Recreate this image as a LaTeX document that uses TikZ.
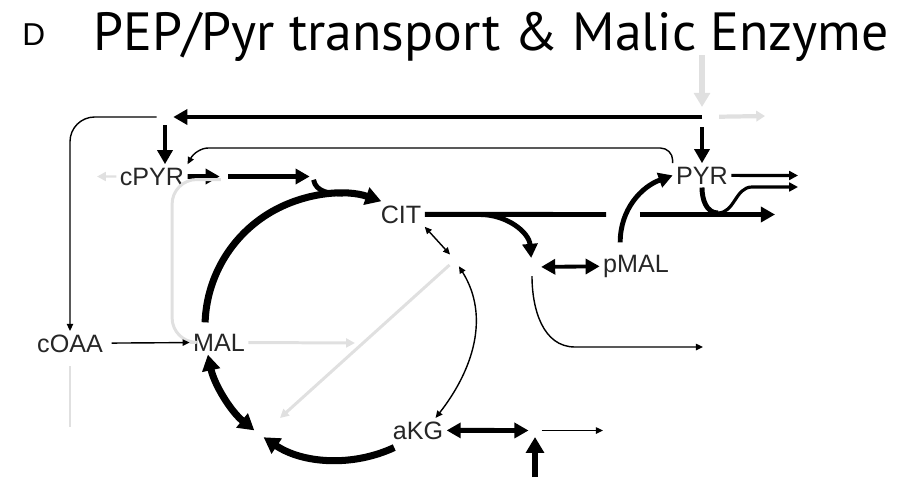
\documentclass[tikz,border=0pt]{standalone}
\usepackage{fontspec}
\newfontfamily\labelfont{Liberation Sans}
\newfontfamily\titlefont{PT Sans}
\usetikzlibrary{arrows,arrows.meta,positioning}

\tikzset{
  met/.style={font=\labelfont\fontsize{14.3}{16}\selectfont, text=black!85,
    inner sep=0pt, outer sep=2pt, anchor=base},
  hub/.style={circle, inner sep=0pt, minimum size=#1},
  gap/.style={rectangle, inner sep=0pt, minimum width=#1, minimum height=6pt},
  heavy/.style={line width=2.8pt},
  ring/.style={line width=4pt},
  medium/.style={line width=1.8pt},
  light/.style={line width=0.8pt},
  faint/.style={draw=black!12, line width=1.7pt},
  bigtip/.tip={Triangle[length=8pt,width=8.5pt]},
  ringtip/.tip={Triangle[length=9pt,width=10pt]},
  midtip/.tip={Triangle[length=5pt,width=5pt]},
  smalltip/.tip={Triangle[length=4pt,width=3.6pt]},
}

\begin{document}
\begin{tikzpicture}[x=0.02cm, y=0.02cm]
\useasboundingbox (0,0) rectangle (911,-477);

% heading
\node[anchor=base west, inner sep=0pt, font=\labelfont\fontsize{18}{20}\selectfont] (panel) at (22,-45) {D};
\node[anchor=base west, inner sep=0pt, font=\titlefont\fontsize{30.6}{34}\selectfont] (title) at (93,-50) {PEP/Pyr transport \& Malic Enzyme};

% metabolites
\node[met] (cpyr) at (152,-185) {cPYR};
\node[met] (pyr)  at (702,-184) {PYR};
\node[met] (cit)  at (401,-223) {CIT};
\node[met] (pmal) at (636,-272) {pMAL};
\node[met] (coaa) at (70,-352) {cOAA};
\node[met] (mal)  at (219,-351) {MAL};
\node[met] (akg)  at (418,-439) {aKG};

% branch points
\node[hub=9pt]   (jc) at (165,-117) {};
\node[hub=11pt]  (jp) at (702,-117) {};
\node[hub=4.5pt] (jh) at (224,-176.5) {};
\node[hub=3.4pt] (jy) at (313,-176.5) {};
\node[hub=8pt]   (ji) at (455,-260) {};
\node[hub=10pt]  (jo) at (532,-267) {};
\node[hub=7pt]   (jk) at (535,-430.5) {};
\node[gap=18.7pt] (bridge) at (623,-214.5) {};
\coordinate (tca) at (338,-327);
\coordinate (split) at (480,-214.5);
\coordinate (dip) at (718,-213);
\coordinate (lowbend) at (575,-347);

% loose ends
\coordinate (pepin) at (702,-55);
\coordinate (pepout) at (765,-116);
\coordinate (cpyrout) at (97,-176.5);
\coordinate (citout) at (775,-214.5);
\coordinate (pyrout) at (798,-175.5);
\coordinate (dipout) at (798,-187);
\coordinate (oaaout) at (703,-347);
\coordinate (kgout) at (603,-430.5);
\coordinate (kgin) at (535,-477);
\coordinate (oaa) at (280,-418);
\coordinate (oaain) at (70,-427);
\coordinate (malgray) at (355,-343);

% supply along the top
\draw[faint, line width=3.4pt, -{Triangle[length=8pt,width=9pt]}] (pepin) -- (jp);
\draw[faint, line width=2.4pt, -{Triangle[length=5pt,width=6pt]}, shorten <=4pt] (jp) -- (pepout);
\draw[heavy, -bigtip] (jp.center) -- (jc);
\draw[heavy, -bigtip] (jp) -- (pyr.north);
\draw[heavy, -bigtip] (jc) -- (jc |- cpyr.north);
\draw[light, -smalltip, rounded corners=14pt] (jc) -| (coaa.north);
\draw[light, -smalltip, rounded corners=7pt] (pyr.north west) |- (196,-148) -- (cpyr.north east);

% cytosolic pyruvate
\draw[faint, line width=1.4pt, -midtip] (cpyr.west) -- (cpyrout);
\draw[heavy, -bigtip] (cpyr) -- (jh);
\draw[heavy, -bigtip] (jh) -- (jy);
\draw[heavy] (jy) to[out=-80, in=178] ([shift={(88:133)}]tca);
\draw[faint, rounded corners=14pt] (jh.south west) -| ([xshift=-10pt]mal.west) -- (mal.west);

% TCA cycle
\draw[ring, -ringtip] ([shift={(178:133)}]tca) arc[start angle=178, end angle=71, radius=133];
\draw[ring, ringtip-ringtip] ([shift={(192:133)}]tca) arc[start angle=192, end angle=231, radius=133];
\draw[ring, -ringtip] ([shift={(295:133)}]tca) arc[start angle=295, end angle=236, radius=133];
\draw[light, smalltip-smalltip] (cit.south east) -- (ji);
\draw[light, smalltip-smalltip] (ji) to[out=-58, in=52] ([xshift=10pt]akg.north);
\draw[faint, -midtip] (ji) -- (oaa);
\draw[light, -smalltip, shorten <=3pt] (coaa) -- (mal);
\draw[faint] ([yshift=-6pt]coaa.south) -- (oaain);
\draw[faint, -midtip] (mal) -- (malgray);

% mitochondrial exchange
\draw[heavy] (cit) -- (bridge);
\draw[heavy, -bigtip] (bridge) -- (citout);
\draw[heavy, -bigtip] (split) to[out=0, in=95] (jo);
\draw[heavy, line width=2.2pt, bigtip-bigtip] (jo) -- (pmal);
\draw[light, -smalltip] (jo) to[out=-90, in=180] (lowbend) -- (oaaout);
\draw[heavy, -bigtip] ([xshift=-9pt, yshift=5pt]pmal.north) to[out=90, in=200] (pyr.west);
\draw[heavy] (pyr.south) to[out=-90, in=180] (dip);
\draw[medium, -midtip] (dip) to[out=0, in=180] (752,-187) -- (dipout);
\draw[medium, -midtip] (pyr) -- (pyrout);

\draw[heavy, bigtip-bigtip] (akg) -- (jk);
\draw[light, -smalltip] (jk) -- (kgout);
\draw[heavy, line width=3.4pt, -{Triangle[length=9pt,width=10pt]}] (kgin) -- (jk);
\end{tikzpicture}
\end{document}
